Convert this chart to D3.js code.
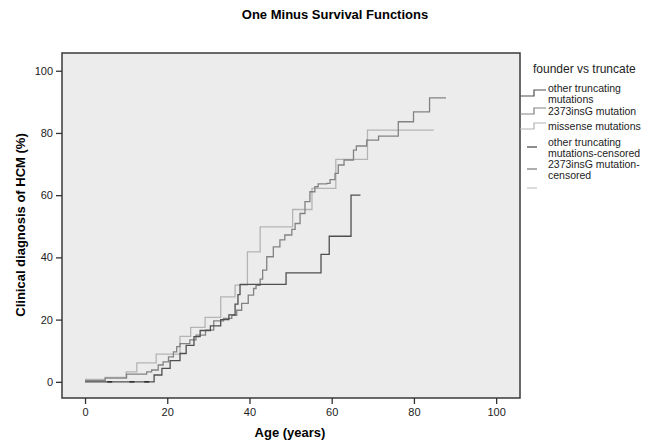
<!DOCTYPE html>
<html>
<head>
<meta charset="utf-8">
<script src="https://cdn.jsdelivr.net/npm/d3@7"></script>
<style>
  body { margin: 0; background: #fff; }
  svg text { font-family: "Liberation Sans", Arial, sans-serif; }
</style>
</head>
<body>
<svg id="chart" width="670" height="448"></svg>
<script>
// step points: [age, cumulative %]
const otherTruncating = [
  [0, 0], [16.8, 2.2], [18.7, 4.3], [20.7, 6.8], [23.1, 9.1], [24.6, 11.7],
  [26.5, 14.5], [28, 16.5], [30.5, 18], [33, 20], [35, 21.5], [36.5, 25],
  [37.2, 28], [37.7, 31.3], [48.9, 35], [57.4, 41], [59.4, 46.8], [64.7, 60], [67, 60]
];
const insG2373 = [
  [0, 0.4], [4.9, 1.2], [10.1, 2.5], [15, 3.2], [16.2, 3.8], [17.8, 5.4], [19, 6.4],
  [20.3, 8], [21.5, 9.6], [22.3, 11.3], [23.1, 12.3], [25.5, 13.5], [27, 15],
  [29.3, 16.6], [31.3, 19.6], [33.7, 20.4], [35.7, 21.4], [36.9, 23], [38.1, 25.2],
  [39.7, 27.9], [41, 30], [41.6, 31], [42.6, 33], [43.2, 35.9], [44.2, 40.2],
  [45.8, 43.4], [47.4, 45.6], [48.6, 47.2], [50.3, 49], [51.1, 50.9], [52.3, 54.1],
  [53.5, 57.9], [54.7, 61.1], [55.9, 62.7], [56.7, 63.6], [58.8, 63.8], [59.6, 65],
  [60.8, 67], [61.6, 69.7], [63, 71.3], [65.3, 74.5], [66, 75.8], [68.5, 77.7],
  [71.4, 79], [76.2, 83.6], [79.9, 86.8], [83.8, 91.3], [87.8, 91.3]
];
const missense = [
  [0, 0.8], [4.9, 1.4], [10, 3.2], [12.6, 6.1], [17.3, 8.9], [23.1, 14.6],
  [25.7, 17.5], [29.2, 20.7], [33, 27.3], [36.5, 31.1], [39.5, 41.8], [42.6, 49.8],
  [50.5, 55.4], [55.2, 62.2], [61, 71.5], [68.7, 80.9], [84.8, 80.9]
];
const censoredOther = [[6, 0], [11.4, 0], [15, 0]];

const xTicks = [0, 20, 40, 60, 80, 100];
const yTicks = [0, 20, 40, 60, 80, 100];

const series = [
  { name: ["other truncating", "mutations"], data: otherTruncating, color: "#4f4f4f" },
  { name: ["2373insG mutation"], data: insG2373, color: "#828282" },
  { name: ["missense mutations"], data: missense, color: "#b4b4b4" }
];
const censorLegend = [
  { name: ["other truncating", "mutations-censored"], color: "#4f4f4f" },
  { name: ["2373insG mutation-", "censored"], color: "#828282" },
  { name: [], color: "#c8c8c8" }
];

const svg = d3.select("#chart");
const x = d3.scaleLinear().domain([-5.6, 105.8]).range([62, 520]);
const y = d3.scaleLinear().domain([-5.2, 105.7]).range([398, 53]);

svg.append("text")
  .attr("x", 335).attr("y", 19)
  .attr("text-anchor", "middle")
  .style("font-size", "13px").style("font-weight", "bold")
  .text("One Minus Survival Functions");

svg.append("rect")
  .attr("x", 62).attr("y", 53)
  .attr("width", 458).attr("height", 345)
  .attr("fill", "#ececec");

const line = d3.line().x(d => x(d[0])).y(d => y(d[1])).curve(d3.curveStepAfter);

svg.append("g").selectAll("path").data(series.slice().reverse()).join("path")
  .attr("d", d => line(d.data))
  .attr("fill", "none")
  .attr("stroke", d => d.color)
  .attr("stroke-width", 1.3);

svg.append("g").selectAll("line").data(censoredOther).join("line")
  .attr("x1", d => x(d[0]) - 2.5).attr("x2", d => x(d[0]) + 2.5)
  .attr("y1", d => y(d[1])).attr("y2", d => y(d[1]))
  .attr("stroke", "#333").attr("stroke-width", 1.6);

svg.append("rect")
  .attr("x", 62).attr("y", 53)
  .attr("width", 458).attr("height", 345)
  .attr("fill", "none").attr("stroke", "#3a3a3a").attr("stroke-width", 1.5);

const xAxis = svg.append("g")
  .attr("transform", "translate(0,398)")
  .call(d3.axisBottom(x).tickValues(xTicks).tickSize(6).tickPadding(4));
const yAxis = svg.append("g")
  .attr("transform", "translate(62,0)")
  .call(d3.axisLeft(y).tickValues(yTicks).tickSize(6).tickPadding(3));
[xAxis, yAxis].forEach(g => {
  g.select(".domain").remove();
  g.selectAll(".tick line").attr("stroke", "#333").attr("stroke-width", 1.3);
  g.selectAll(".tick text").attr("fill", "#222").style("font-size", "11px");
});

svg.append("text")
  .attr("x", 290).attr("y", 437)
  .attr("text-anchor", "middle")
  .style("font-size", "13px").style("font-weight", "bold")
  .text("Age (years)");

svg.append("text")
  .attr("transform", "translate(25,225) rotate(-90)")
  .attr("text-anchor", "middle")
  .style("font-size", "13px").style("font-weight", "bold")
  .text("Clinical diagnosis of HCM (%)");

// legend
const legend = svg.append("g");
legend.append("text")
  .attr("x", 533).attr("y", 73)
  .style("font-size", "12px").attr("fill", "#222")
  .text("founder vs truncate");

const rowsY = [93, 111, 126];
series.forEach((s, i) => {
  const cy = rowsY[i];
  legend.append("path")
    .attr("d", `M520,${cy + 3}H534V${cy - 3}H546`)
    .attr("fill", "none").attr("stroke", s.color).attr("stroke-width", 1.2);
  s.name.forEach((t, j) => {
    legend.append("text")
      .attr("x", 548).attr("y", cy + 4 - (s.name.length - 1) * 5.5 + j * 11)
      .style("font-size", "10.5px").attr("fill", "#222")
      .text(t);
  });
});
const cRowsY = [147, 169, 188];
censorLegend.forEach((s, i) => {
  const cy = cRowsY[i];
  legend.append("line")
    .attr("x1", 527).attr("x2", 537).attr("y1", cy).attr("y2", cy)
    .attr("stroke", s.color).attr("stroke-width", 1.3);
  s.name.forEach((t, j) => {
    legend.append("text")
      .attr("x", 548).attr("y", cy + 4 - (s.name.length - 1) * 5.5 + j * 11)
      .style("font-size", "10.5px").attr("fill", "#222")
      .text(t);
  });
});
</script>
</body>
</html>
